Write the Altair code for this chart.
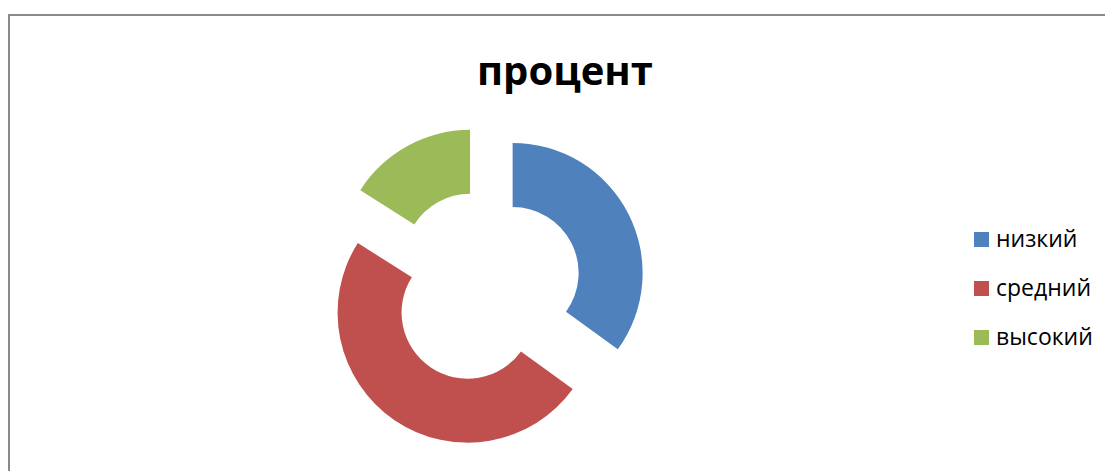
import altair as alt
import pandas as pd

categories = ["низкий", "средний", "высокий"]
values = [35, 49, 16]
order = [0, 1, 2]
colors = ["#4F81BD", "#C0504D", "#9BBB59"]

df = pd.DataFrame({"level": categories, "value": values, "order": order})

W, H = 970, 360
EXPLODE = 31

base = (
    alt.Chart(df)
    .transform_window(cum="sum(value)", sort=[alt.SortField("order")], frame=[None, 0])
    .transform_joinaggregate(total="sum(value)")
    .transform_calculate(
        a1="2*PI*datum.cum/datum.total",
        a0="2*PI*(datum.cum-datum.value)/datum.total",
    )
    .transform_calculate(mid="(datum.a0+datum.a1)/2")
    .transform_calculate(
        ox=f"{EXPLODE}*sin(datum.mid)",
        oy=f"{EXPLODE}*cos(datum.mid)",
    )
)

arcs = base.mark_arc(innerRadius=66, outerRadius=130).encode(
    theta=alt.Theta("a0:Q", scale=None, stack=None),
    theta2="a1:Q",
    x=alt.X("ox:Q", scale=alt.Scale(domain=[-W / 2, W / 2], nice=False, zero=False), axis=None),
    y=alt.Y("oy:Q", scale=alt.Scale(domain=[-H / 2, H / 2], nice=False, zero=False), axis=None),
    color=alt.Color(
        "level:N",
        scale=alt.Scale(domain=categories, range=colors),
        sort=categories,
        legend=alt.Legend(
            title=None,
            orient="none",
            legendX=970,
            legendY=121,
            symbolType="square",
            symbolSize=225,
            symbolStrokeWidth=0,
            labelFont="Open Sans",
            labelFontSize=23,
            labelColor="black",
            rowPadding=25,
            labelOffset=3,
            padding=0,
        ),
    ),
    tooltip=["level:N", "value:Q"],
)

border = (
    alt.Chart(pd.DataFrame({"f": [0]}))
    .mark_rect(fill="transparent", stroke="#898989", strokeWidth=2)
    .encode(
        x=alt.value(9),
        x2=alt.value(1130),
        y=alt.value(-92),
        y2=alt.value(420),
    )
)

chart = (
    alt.layer(border, arcs)
    .properties(
        width=W,
        height=H,
        autosize="none",
        padding={"left": 0, "top": 107, "right": 135, "bottom": 4},
        title=alt.TitleParams(
            "процент",
            font="Open Sans",
            fontSize=40,
            fontWeight="bold",
            color="black",
            anchor="middle",
            baseline="alphabetic",
            dx=80,
            offset=-111,
        ),
    )
    .configure_view(stroke=None)
)

chart.save("out.html", embed_options={"renderer": "svg", "actions": False})
